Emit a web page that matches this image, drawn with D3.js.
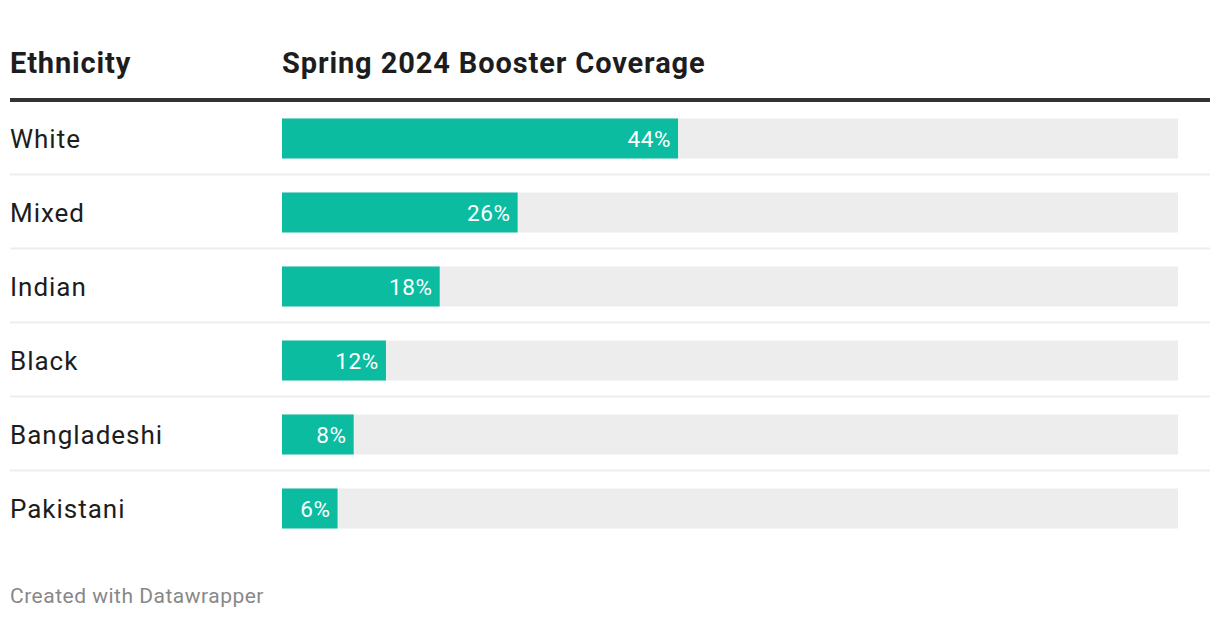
<!DOCTYPE html>
<html>
<head>
<meta charset="utf-8">
<script src="https://cdn.jsdelivr.net/npm/d3@7"></script>
<style>
  html, body { margin: 0; padding: 0; background: #fff; }
  svg { display: block; font-family: Roboto, "Noto Sans", sans-serif; }
</style>
</head>
<body>
<svg id="chart" width="1220" height="620"></svg>
<script>
const categories = ["White", "Mixed", "Indian", "Black", "Bangladeshi", "Pakistani"];
const coverage = [44.2, 26.3, 17.6, 11.6, 8.0, 6.2];
const columnTitles = ["Ethnicity", "Spring 2024 Booster Coverage"];
const footerText = "Created with Datawrapper";

const svg = d3.select("#chart");

const barX0 = 282, barX1 = 1178;
const x = d3.scaleLinear().domain([0, 100]).range([barX0, barX1]);
const y = d3.scaleBand().domain(categories).range([101, 545]).paddingInner(0).paddingOuter(0);
const barH = 40;

// header
svg.append("text").attr("x", 10).attr("y", 73).text(columnTitles[0])
  .attr("font-size", 29).attr("letter-spacing", 0.85).attr("font-weight", 700).attr("fill", "#1d1d1d");
svg.append("text").attr("x", 282).attr("y", 73).text(columnTitles[1])
  .attr("font-size", 29).attr("letter-spacing", 0.88).attr("font-weight", 700).attr("fill", "#1d1d1d");
svg.append("rect").attr("x", 10).attr("y", 98).attr("width", 1200).attr("height", 4).attr("fill", "#333333");

const rows = svg.append("g").selectAll("g").data(categories).join("g")
  .attr("transform", d => `translate(0,${y(d)})`);

const bw = y.bandwidth();
const barTop = (bw - barH) / 2 + 0.5;

rows.filter((d, i) => i < categories.length - 1)
  .append("rect").attr("x", 10).attr("y", bw - 1.5).attr("width", 1200).attr("height", 2).attr("fill", "#ededed");

rows.append("text").attr("x", 10).attr("y", bw / 2 + 10).text(d => d)
  .attr("font-size", 26).attr("letter-spacing", 0.98).attr("fill", "#1d1d1d");

rows.append("rect").attr("x", x(0)).attr("y", barTop).attr("width", x(100) - x(0)).attr("height", barH)
  .attr("fill", "#ededed");

rows.append("rect").attr("x", x(0)).attr("y", barTop)
  .attr("width", (d, i) => x(coverage[i]) - x(0)).attr("height", barH)
  .attr("fill", "#0bbca0");

rows.append("text")
  .attr("x", (d, i) => x(coverage[i]) - 7)
  .attr("y", bw / 2 + 8.5)
  .attr("text-anchor", "end")
  .attr("font-size", 22.5).attr("letter-spacing", 0.6).attr("fill", "#ffffff")
  .text((d, i) => Math.round(coverage[i]) + "%");

svg.append("text").attr("x", 10).attr("y", 603).text(footerText)
  .attr("font-size", 21).attr("letter-spacing", 0.5).attr("fill", "#888888");
</script>
</body>
</html>
